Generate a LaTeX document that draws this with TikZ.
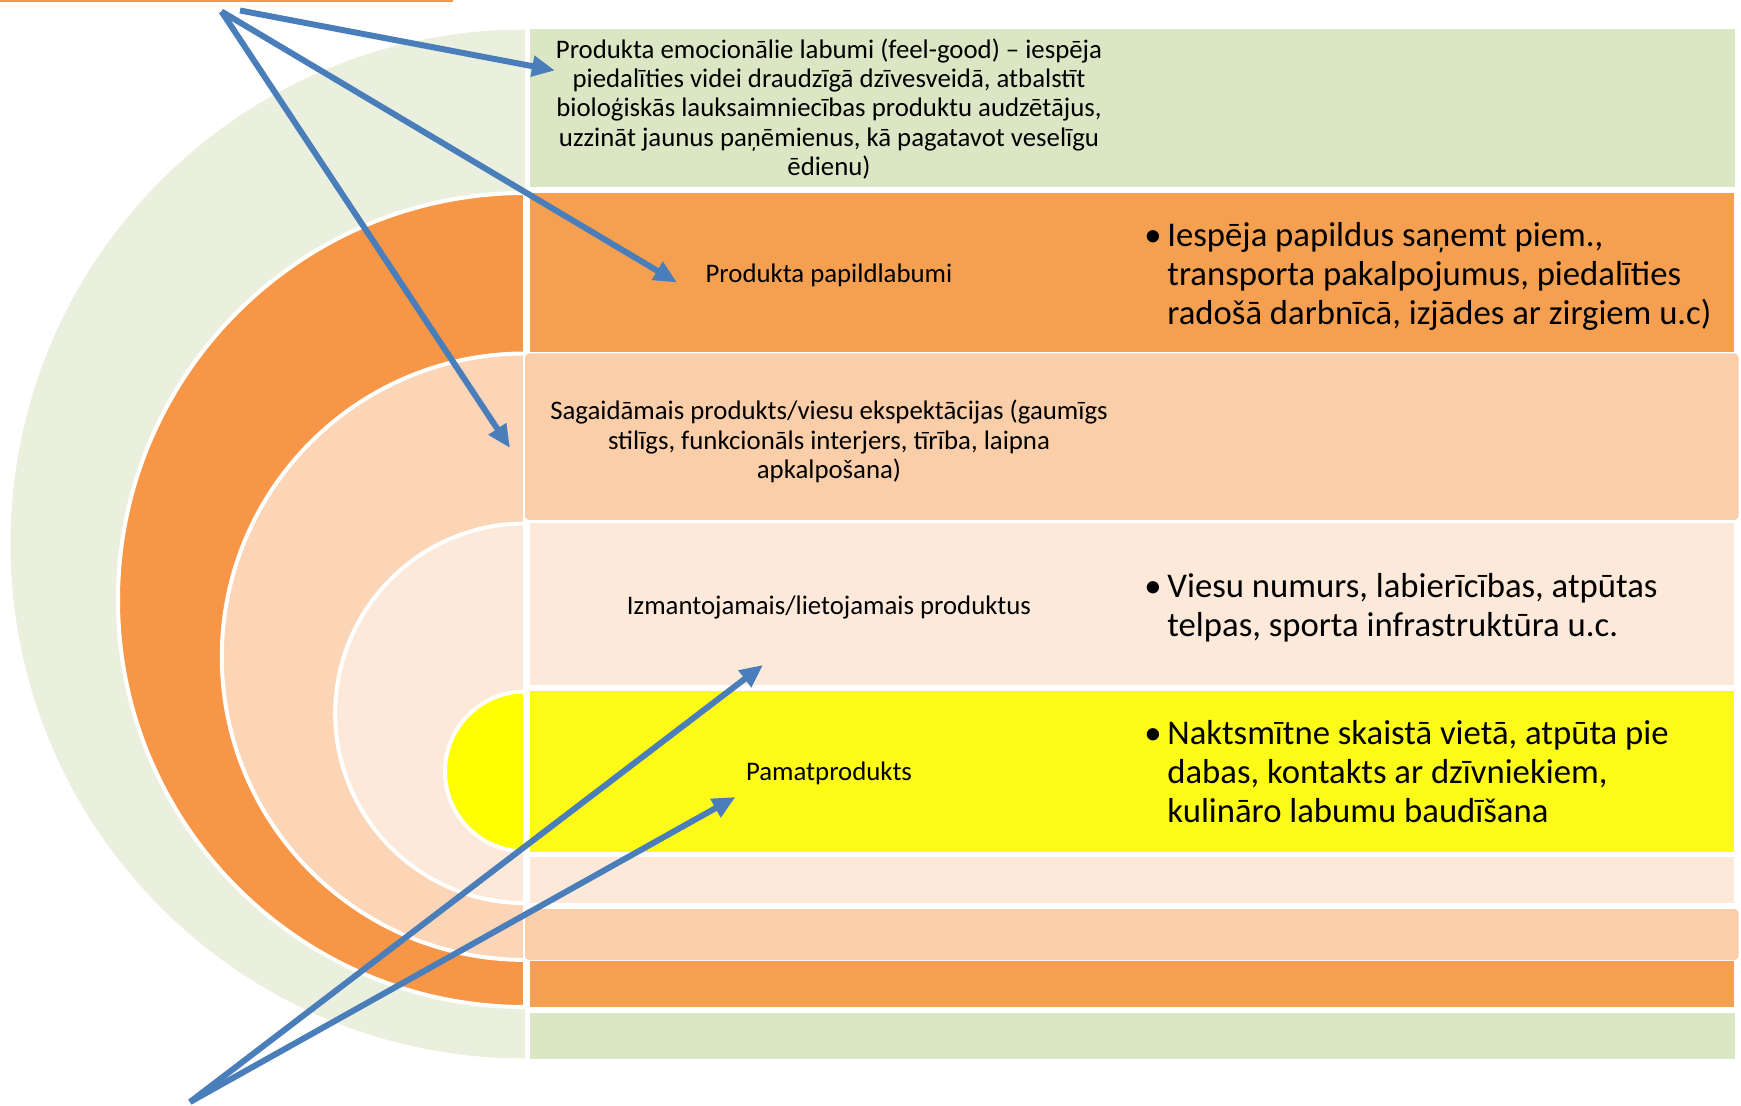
\documentclass[tikz,border=0pt]{standalone}
\usepackage{fontspec}
\setmainfont{Carlito}
\usetikzlibrary{arrows.meta}
\definecolor{gArc}{HTML}{EBF0DE}
\definecolor{gBar}{HTML}{DBE6C4}
\definecolor{oArc}{HTML}{F79646}
\definecolor{oBar}{HTML}{F5A050}
\definecolor{pArc}{HTML}{FBD5B5}
\definecolor{pBar}{HTML}{FACEA8}
\definecolor{lArc}{HTML}{FDE9D9}
\definecolor{lBar}{HTML}{FDE9DA}
\definecolor{yArc}{HTML}{FFFF00}
\definecolor{yBar}{HTML}{FEFA18}
\definecolor{arr}{HTML}{4A7EBB}
\newcommand{\blitem}{\makebox[9pt][l]{\hspace{-2.5pt}•}}
\begin{document}
\begin{tikzpicture}[x=0.5pt,y=-0.5pt,
  ring/.style={draw=white, line width=2pt},
  lbl/.style={font=\fontsize{13.4}{14.6}\selectfont, align=center, inner sep=0pt},
  blt/.style={font=\fontsize{17.35}{19.4}\selectfont, anchor=west, inner sep=0pt},
  link/.style={draw=arr, line width=3pt, -{Triangle[length=11.5pt,width=10pt]}}]

\useasboundingbox (0,0) rectangle (1741,1106);
\fill[oArc] (0,0) rectangle (453,1.6);

% nested half discs
\path[fill=gArc] (525,29.5) arc[start angle=90,end angle=270,radius=257.25pt] -- cycle;
\path[fill=oArc, ring] (525,193) arc[start angle=90,end angle=270,radius=203.5pt] -- cycle;
\path[fill=pArc, ring] (525,353.5) arc[start angle=90,end angle=270,radius=151.6pt] -- cycle;
\path[fill=lArc, ring] (525,523.5) arc[start angle=90,end angle=270,radius=94.9pt] -- cycle;
\path[fill=yArc, ring] (525,691.5) arc[start angle=90,end angle=270,radius=40pt] -- cycle;

% bars
\path[fill=gBar] (530,29.5) rectangle (1734.5,187.5);
\path[fill=oBar] (530,193) rectangle (1734,352.5);
\path[fill=pBar, rounded corners=2pt] (525,353.5) rectangle (1738.5,520);
\path[fill=lBar] (530,523.5) rectangle (1734,685);
\path[fill=yBar] (530,691.5) rectangle (1734,851.5);
\path[fill=lBar] (530,857) rectangle (1734,903);
\path[fill=pBar, rounded corners=2pt] (525,909) rectangle (1738.5,960);
\path[fill=oBar] (530,961) rectangle (1734,1007);
\path[fill=gBar] (530,1012.5) rectangle (1734.5,1058.5);

% labels
\node[lbl] (emo) at (829,109) {Produkta emocionālie labumi (feel-good) – iespēja\\piedalīties videi draudzīgā dzīvesveidā, atbalstīt\\bioloģiskās lauksaimniecības produktu audzētājus,\\uzzināt jaunus paņēmienus, kā pagatavot veselīgu\\ēdienu)};
\node[lbl] (papild) at (829,275.5) {Produkta papildlabumi};
\node[lbl] (sagaid) at (829,441.5) {Sagaidāmais produkts/viesu ekspektācijas (gaumīgs\\stilīgs, funkcionāls interjers, tīrība, laipna\\apkalpošana)};
\node[lbl] (izmant) at (829,607.5) {Izmantojamais/lietojamais produktus};
\node[lbl] (pamat) at (829,773.5) {Pamatprodukts};

\node[blt] (bpapild) at (1149,278) {\begin{tabular}{@{}l@{}l@{}}\blitem&Iespēja papildus saņemt piem.,\\&transporta pakalpojumus, piedalīties\\&radošā darbnīcā, izjādes ar zirgiem u.c)\end{tabular}};
\node[blt] (bizmant) at (1149,609.5) {\begin{tabular}{@{}l@{}l@{}}\blitem&Viesu numurs, labierīcības, atpūtas\\&telpas, sporta infrastruktūra u.c.\end{tabular}};
\node[blt] (bpamat) at (1149,776) {\begin{tabular}{@{}l@{}l@{}}\blitem&Naktsmītne skaistā vietā, atpūta pie\\&dabas, kontakts ar dzīvniekiem,\\&kulināro labumu baudīšana\end{tabular}};

% arrows
\coordinate (t1) at (240,10.5);
\coordinate (t2) at (221.5,11.5);
\coordinate (t3) at (190,1102);
\coordinate (h1) at (555,70.5);
\coordinate (h2) at (677,282.5);
\coordinate (h3) at (510,448);
\coordinate (h4) at (763,665);
\coordinate (h5) at (735.5,797);
\draw[link] (t1) -- (h1);
\draw[link] (t2) -- (h2);
\draw[link] (t2) -- (h3);
\draw[link] (t3) -- (h4);
\draw[link] (t3) -- (h5);
\end{tikzpicture}
\end{document}
